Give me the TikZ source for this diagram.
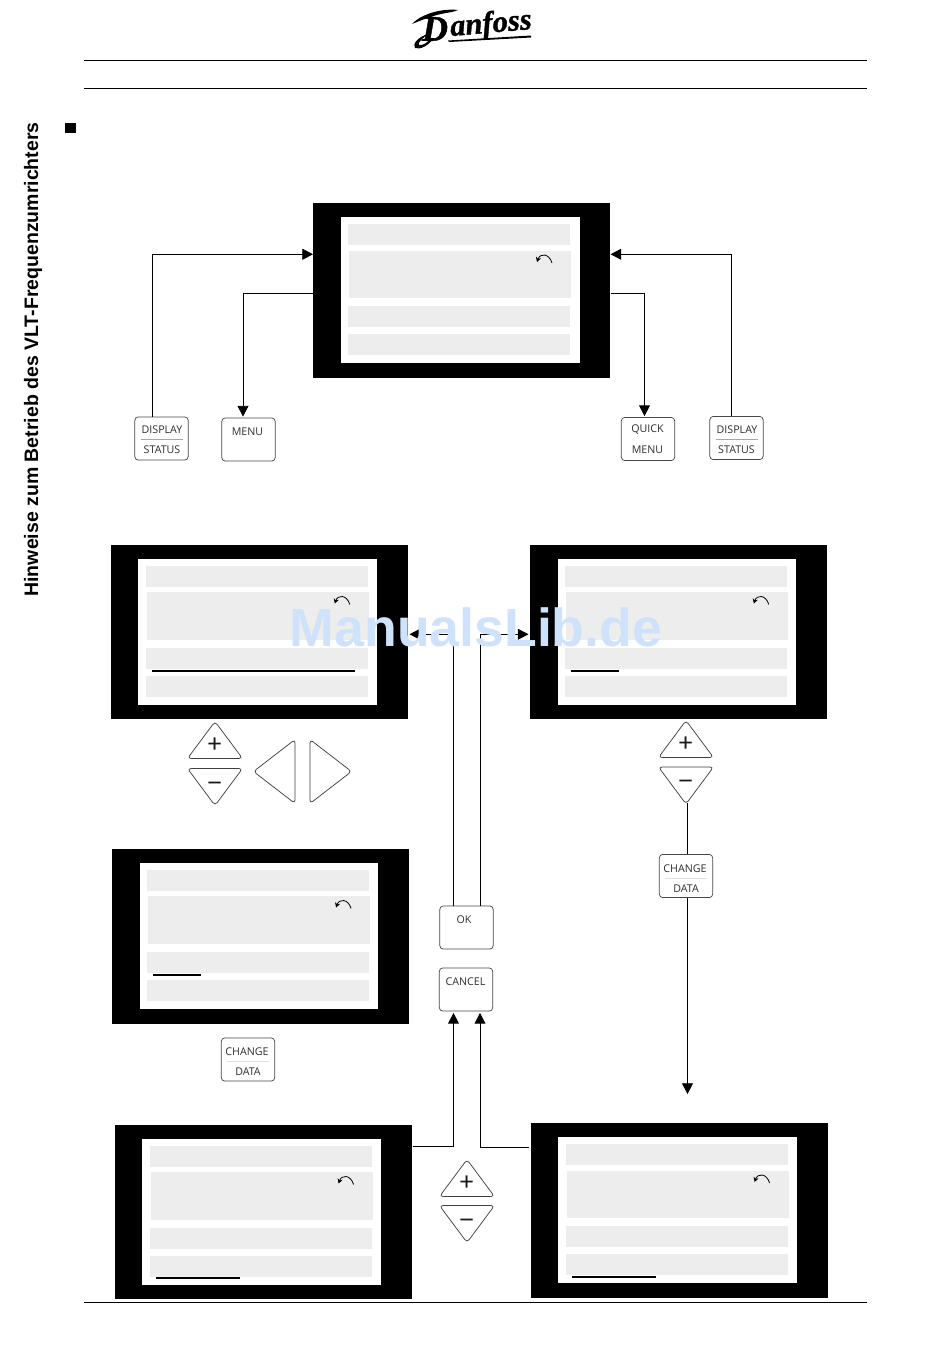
\documentclass[tikz,border=0pt]{standalone}
\usepackage{fontspec}
\setmainfont{Liberation Sans}
\newfontfamily\btnfont{Open Sans}
\newfontfamily\signfont{Fira Sans Light}
\newfontfamily\logofont[BoldItalicFeatures={FakeBold=1.2}]{Liberation Serif}
\usetikzlibrary{arrows.meta,calc,positioning}
\definecolor{barc}{HTML}{EDEDED}
\definecolor{wm}{HTML}{CFE2FB}
\tikzset{
  x=0.75pt,y=-0.75pt,
  outerbox/.style={fill=black,draw=none,inner sep=0pt,anchor=north west,minimum width=222.75pt},
  innerbox/.style={fill=white,draw=none},
  barbox/.style={fill=barc,draw=none},
  conn/.style={draw=black,line width=0.6pt},
  tip/.style={-{Triangle[length=8pt,width=8.2pt]}},
  btn/.style={draw=black!72,line width=0.55pt,rounded corners=2.6pt,inner sep=0pt,minimum width=40pt,minimum height=32.4pt},
  btntxt/.style={font=\btnfont\fontsize{8pt}{9pt}\selectfont,text=black!82,inner sep=0pt},
  keyline/.style={draw=black!75,line width=0.55pt,rounded corners=2.6pt,fill=white},
  signtxt/.style={font=\signfont\fontsize{26pt}{26pt}\selectfont,text=black!90,inner sep=0pt},
  underl/.style={draw=black,line width=1.5pt},
  rule/.style={draw=black,line width=0.6pt},
}
% name, outer x,y, white x,y, bar 3 dy, bar 4 dy, outer height, bar shift
\newcommand{\dispscreen}[9]{%
  \node[outerbox,minimum height=#8*0.75pt] (#1) at (#2,#3) {};
  \fill[innerbox] (#4,#5) rectangle ++(238.5,146);
  \fill[barbox] ($(#4,#5)+(7+#9,7)$) rectangle ++(222,21);
  \fill[barbox] ($(#4,#5)+(8+#9,33.5)$) rectangle ++(222,47.5);
  \fill[barbox] ($(#4,#5)+(7+#9,#6)$) rectangle ++(222,21);
  \fill[barbox] ($(#4,#5)+(7+#9,#7)$) rectangle ++(222,21);
  \draw[line width=0.6pt,-{Stealth[length=3.6pt,width=4pt]}] ($(#4,#5)+(211+#9,46)$) .. controls ($(#4,#5)+(208+#9,36)$) and ($(#4,#5)+(199+#9,36)$) .. ($(#4,#5)+(196+#9,45)$);
}
\newcommand{\pluskey}[3]{% name, centre x, top y
  \coordinate (#1) at (#2,#3);
  \draw[keyline] ($(#1)+(0,-1.5)$) -- ($(#1)+(27.5,35.5)$) -- ($(#1)+(-27.5,35.5)$) -- cycle;
  \node[signtxt] (#1t) at ($(#1)+(0,24)$) {+};
}
\newcommand{\minuskey}[3]{% name, centre x, bottom y
  \coordinate (#1) at (#2,#3);
  \draw[keyline] ($(#1)+(0,1.5)$) -- ($(#1)+(27.5,-35.5)$) -- ($(#1)+(-27.5,-35.5)$) -- cycle;
  \node[signtxt] (#1t) at ($(#1)+(0,-16)$) {−};
}
\begin{document}
\begin{tikzpicture}
\useasboundingbox (0,0) rectangle (950,1360);
\fill[white] (0,0) rectangle (950,1360);

% header
\coordinate (ruleAl) at (84,60); \coordinate (ruleAr) at (867,60);
\coordinate (ruleBl) at (84,88); \coordinate (ruleBr) at (867,88);
\coordinate (ruleCl) at (84,1302); \coordinate (ruleCr) at (867,1302);
\draw[rule] (ruleAl) -- (ruleAr);
\draw[rule] (ruleBl) -- (ruleBr);
\draw[rule] (ruleCl) -- (ruleCr);
\fill[black] (65,123) rectangle (76,133);

% logo
\node[inner sep=0pt,rotate=5,font=\logofont\bfseries\itshape\fontsize{23pt}{23pt}\selectfont] (logoB) at (491,25) {anfoss};
\node[inner sep=0pt,font=\logofont\bfseries\itshape\fontsize{30pt}{30pt}\selectfont,scale=0.9] (logoA) at (435,29) {D};
\fill[black] (412,24) .. controls (420,15) and (440,8) .. (458,10) .. controls (452,13) and (440,13) .. (431,17)
  .. controls (424,19) and (417,22) .. (412,24) -- cycle;
\fill[black] (434,38) .. controls (428,46) and (420,50) .. (415,48) .. controls (412,44) and (418,37) .. (428,34)
  .. controls (423,38) and (417,43) .. (419,45) .. controls (423,46) and (428,42) .. (431,38) -- cycle;
\fill[black] (448,40.5) -- (531,35.5) -- (531,37.5) -- (449,42) -- cycle;

% side text
\node[rotate=90,inner sep=0pt,font=\bfseries\fontsize{14.62pt}{15pt}\selectfont] (side) at (33,359.5) {Hinweise zum Betrieb des VLT-Frequenzumrichters};

% screens
\dispscreen{scrA}{313}{203}{341}{217}{89}{117}{175}{0}
\dispscreen{scrB}{111}{545}{138}{558.5}{89}{117}{174}{0.8}
\dispscreen{scrC}{530}{545}{557.5}{558.5}{89}{117}{174}{0.3}
\dispscreen{scrD}{112}{849}{139.5}{862.5}{89}{117}{175}{0.6}
\dispscreen{scrE}{115}{1125}{142}{1138.5}{89.5}{117}{174}{0.6}
\dispscreen{scrF}{531}{1123}{558}{1137}{89}{117}{175}{0.6}

\coordinate (ulBa) at (152,670.5); \coordinate (ulBb) at (355,670.5);
\coordinate (ulCa) at (571,670.5); \coordinate (ulCb) at (619,670.5);
\coordinate (ulDa) at (153,974.5); \coordinate (ulDb) at (201,974.5);
\coordinate (ulEa) at (156,1278); \coordinate (ulEb) at (240,1278);
\coordinate (ulFa) at (572,1277); \coordinate (ulFb) at (656,1277);
\draw[underl] (ulBa) -- (ulBb);
\draw[underl] (ulCa) -- (ulCb);
\draw[underl] (ulDa) -- (ulDb);
\draw[underl] (ulEa) -- (ulEb);
\draw[underl] (ulFa) -- (ulFb);

% buttons
\node[btn] (dsl) at (161.5,438.5) {};
\node[btntxt] (dslA) at (162,429.5) {DISPLAY};
\node[btntxt] (dslB) at (162,449.5) {STATUS};
\node[btn] (menu) at (248.5,439.5) {};
\node[btntxt] (menuA) at (247.5,431.5) {MENU};
\node[btn] (quick) at (648,439) {};
\node[btntxt] (quickA) at (647.5,430) {QUICK};
\node[btntxt] (quickB) at (647.5,450) {MENU};
\node[btn] (dsr) at (736.5,438) {};
\node[btntxt] (dsrA) at (737,429.5) {DISPLAY};
\node[btntxt] (dsrB) at (736.5,449.5) {STATUS};
\node[btn] (chgl) at (248,1059.5) {};
\node[btntxt] (chglA) at (247,1052) {CHANGE};
\node[btntxt] (chglB) at (248,1072) {DATA};
\node[btn] (chgr) at (686,876) {};
\node[btntxt] (chgrA) at (685,868.5) {CHANGE};
\node[btntxt] (chgrB) at (686,888.5) {DATA};
\node[btn] (ok) at (466.5,927.5) {};
\node[btntxt] (okA) at (464,919.5) {OK};
\node[btn] (cancel) at (466,989.5) {};
\node[btntxt] (cancelA) at (465.5,982) {CANCEL};
\coordinate (dvAa) at (141,439.5); \coordinate (dvAb) at (183,439.5);
\coordinate (dvBa) at (716,439); \coordinate (dvBb) at (758,439);
\coordinate (dvCa) at (227,1061); \coordinate (dvCb) at (269,1061);
\coordinate (dvDa) at (665,878); \coordinate (dvDb) at (707,878);
\draw[black!35,line width=0.5pt] (dvAa) -- (dvAb);
\draw[black!35,line width=0.5pt] (dvBa) -- (dvBb);
\draw[black!12,line width=0.5pt] (dvCa) -- (dvCb);
\draw[black!12,line width=0.5pt] (dvDa) -- (dvDb);

% keys
\pluskey{plusL}{215}{723}
\minuskey{minusL}{215}{804}
\draw[keyline] (295,739.5) -- (295,803.5) -- (253.5,771.5) -- cycle;
\draw[keyline] (310,739.5) -- (310,803.5) -- (351.5,771.5) -- cycle;
\pluskey{plusR}{686}{722}
\minuskey{minusR}{686}{802.5}
\pluskey{plusM}{467}{1161}
\minuskey{minusM}{467}{1241}

% connectors
\draw[conn,tip] ($(dsl.north)+(-9.5,0)$) |- ($(scrA.west)+(0,-36.5)$);
\draw[conn,tip] ($(scrA.west)+(0,2.5)$) -| ($(menu.north)+(-5.5,-1)$);
\draw[conn,tip] ($(scrA.east)+(0,2.5)$) -| ($(quick.north)+(-3.5,-1)$);
\draw[conn,tip] ($(dsr.north)+(-5.5,0)$) |- ($(scrA.east)+(0,-36.5)$);
\draw[conn,tip] ($(ok.north)+(-13.5,0)$) |- ($(scrB.east)+(1,2)$);
\draw[conn,tip] ($(ok.north)+(13.5,0)$) |- ($(scrC.west)+(-1.5,2)$);
\coordinate (downEnd) at (687.5,1094);
\draw[conn] ($(minusR)+(1.5,0)$) -- ($(chgr.north)+(1.5,0)$);
\draw[conn,tip] ($(chgr.south)+(1.5,0)$) -- (downEnd);
\draw[conn,tip] ($(scrE.east)+(0,-66)$) -| ($(cancel.south)+(-12.5,1.5)$);
\draw[conn,tip] ($(scrF.west)+(-2,-63.5)$) -| ($(cancel.south)+(14,1.5)$);

% watermark
\node[inner sep=0pt,text=wm,font=\bfseries\fontsize{40.2pt}{41pt}\selectfont] (mark) at (476,627) {ManualsLib.de};
\end{tikzpicture}
\end{document}
